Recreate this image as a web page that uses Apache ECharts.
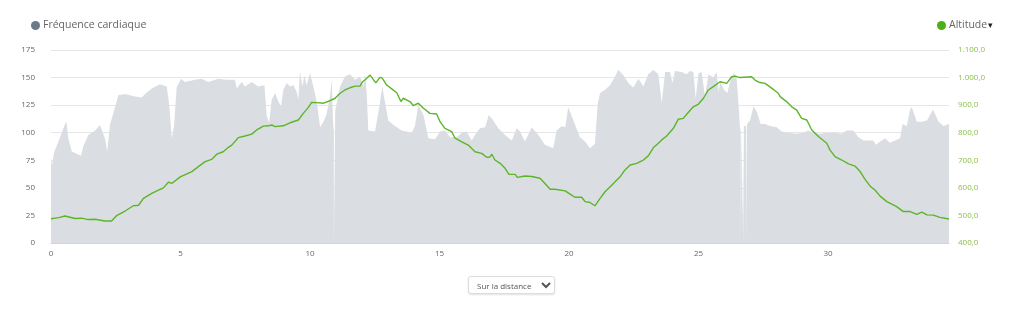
<!DOCTYPE html>
<html>
<head>
<meta charset="utf-8">
<script src="https://cdn.jsdelivr.net/npm/echarts@6/dist/echarts.min.js"></script>
<style>
  html, body { margin: 0; padding: 0; background: #fff; }
  #wrap { position: relative; width: 1024px; height: 309px; }
  #chart { position: absolute; left: 0; top: 0; width: 1024px; height: 309px; }
  #mode {
    position: absolute; left: 468px; top: 276px; width: 87px; height: 18px;
    font-family: 'Open Sans', sans-serif; font-size: 8px; color: #555;
    border: 1px solid #ddd; border-radius: 3px; background: #fff;
    box-shadow: 0 1px 2px rgba(0,0,0,0.12); padding: 0 0 0 4px;
  }
</style>
</head>
<body>
<div id="wrap">
  <div id="chart"></div>
  <select id="mode"><option>Sur la distance</option></select>
</div>
<script>
// ---- data (km, bpm) ----
const hrKm = [0,0.04,0.1,0.15,0.35,0.54,0.6,0.66,0.8,0.99,1.16,1.25,1.44,1.7,1.89,2.08,2.17,2.28,2.4,2.6,2.86,3.2,3.5,3.63,3.89,4.2,4.47,4.57,4.66,4.75,4.85,5.02,5.17,5.56,5.82,6.07,6.46,6.78,7.1,7.17,7.36,7.49,7.75,8.0,8.24,8.33,8.42,8.52,8.65,8.78,8.88,8.97,9.1,9.23,9.36,9.49,9.55,9.61,9.71,9.78,9.87,10.0,10.13,10.26,10.39,10.52,10.64,10.77,10.84,10.9,10.92,10.922,10.972,10.974,11.03,11.16,11.35,11.54,11.74,11.93,12.06,12.12,12.19,12.25,12.51,12.7,12.79,12.9,13.02,13.28,13.54,13.73,13.93,14.05,14.18,14.38,14.57,14.83,15.02,15.21,15.41,15.66,15.86,16.05,16.24,16.37,16.56,16.76,16.9,17.05,17.27,17.53,17.79,17.98,18.11,18.3,18.56,18.82,19.07,19.27,19.39,19.52,19.72,19.85,19.97,20.17,20.42,20.62,20.81,21.0,21.11,21.2,21.39,21.58,21.78,21.9,22.1,22.29,22.48,22.68,22.87,23.06,23.26,23.45,23.58,23.71,23.9,23.99,24.09,24.35,24.54,24.67,24.8,24.89,25.0,25.12,25.25,25.38,25.57,25.7,25.78,25.83,25.98,26.11,26.24,26.37,26.47,26.54,26.6,26.63,26.632,26.66,26.662,26.72,26.722,26.75,26.752,26.84,26.842,26.87,26.872,26.99,27.12,27.25,27.4,27.57,27.76,28.02,28.21,28.47,28.79,29.05,29.24,29.44,29.69,29.95,30.27,30.53,30.72,30.98,31.17,31.37,31.56,31.75,31.85,32.01,32.2,32.39,32.59,32.78,32.88,33.04,33.17,33.23,33.43,33.62,33.82,34.05,34.27,34.46,34.67];
const hrVal = [78,70,80,84,96,108,110,96,83,81,79,88,98,102,107,95,83,108,117,134,135,133,132,135,140,144,142,124,95,106,141,149,146,148,149,146,149,148,148,140,146,142,146,142,143,115,109,130,136,128,124,139,145,142,143,137,130,155,142,152,143,154,142,128,105,110,117,133,148,101,112,0,0,120,121,142,151,153,148,151,142,153,136,102,101,127,142,127,111,106,102,101,100,106,125,116,95,94,101,102,96,96,100,101,93,98,104,105,116,112,104,98,93,104,101,92,105,98,89,87,86,102,106,105,123,111,96,92,86,90,127,136,139,143,151,157,152,145,141,149,142,153,157,153,127,155,155,145,156,155,153,156,155,131,154,155,133,153,150,155,137,147,139,136,148,154,150,127,105,101,0,0,104,104,0,0,106,106,0,0,108,111,124,119,108,108,106,105,101,100,99,100,102,100,99,100,100,99,102,102,96,93,93,93,89,92,95,91,93,95,108,106,121,123,110,110,111,121,110,106,108];

// ---- data (km, m) ----
const altKm = [0,0.3,0.54,0.93,1.18,1.44,1.7,2.08,2.34,2.53,2.86,3.18,3.38,3.57,3.89,4.15,4.34,4.54,4.66,4.99,5.44,5.69,5.95,6.2,6.4,6.65,6.85,6.98,7.23,7.49,7.75,7.94,8.2,8.4,8.52,8.65,8.97,9.23,9.55,9.74,9.93,10.06,10.26,10.52,10.77,10.97,11.16,11.35,11.54,11.74,11.93,12.03,12.12,12.32,12.38,12.54,12.7,12.79,12.96,13.13,13.35,13.51,13.6,13.86,13.99,14.18,14.38,14.63,14.89,15.02,15.21,15.47,15.6,15.86,16.11,16.37,16.63,16.82,16.95,17.02,17.14,17.34,17.53,17.68,17.92,18.0,18.3,18.56,18.88,19.07,19.27,19.46,19.85,20.04,20.23,20.49,20.62,20.81,21.0,21.2,21.39,21.52,21.78,21.97,22.16,22.36,22.61,22.87,23.06,23.26,23.45,23.58,23.77,24.03,24.22,24.41,24.61,24.8,25.0,25.19,25.38,25.57,25.83,26.09,26.28,26.41,26.6,27.05,27.18,27.37,27.57,27.89,28.08,28.15,28.41,28.6,28.79,28.98,29.18,29.37,29.63,29.95,30.08,30.27,30.53,30.79,31.04,31.24,31.43,31.62,31.81,32.01,32.27,32.46,32.65,32.91,33.17,33.43,33.62,33.82,34.07,34.32,34.67];
const altVal = [488,492,498,489,490,485,486,480,480,499,516,535,537,562,580,592,600,621,616,640,659,677,695,703,722,731,747,755,782,788,795,810,824,825,828,822,825,836,846,870,891,910,909,907,916,925,943,955,963,969,969,985,991,1009,1009,981,1001,998,973,961,945,913,925,913,898,907,889,870,868,840,816,804,780,767,755,731,725,711,712,722,701,689,671,649,649,638,643,641,635,616,595,595,589,577,566,566,550,547,535,562,586,598,622,640,665,683,689,701,716,746,762,774,788,816,849,852,874,894,904,925,955,967,985,979,1003,1005,1000,1003,991,982,979,957,943,931,912,894,882,852,846,810,786,762,737,713,701,687,679,659,631,607,592,570,550,541,532,514,514,504,512,502,501,493,487];

const xTicks = { min: 0, max: 34.67, step: 5 };
const hrTicks = { min: 0, max: 175, step: 25 };
const altTicks = { min: 400, max: 1100, step: 100 };

function fmtAlt(v) {
  const s = String(Math.round(v));
  const withSep = s.replace(/\B(?=(\d{3})+(?!\d))/g, '.');
  return withSep + ',0';
}

const chart = echarts.init(document.getElementById('chart'), null, { renderer: 'canvas' });
const font = "'Open Sans', sans-serif";
chart.setOption({
  animation: false,
  textStyle: { fontFamily: font },
  legend: [
    {
      left: 31, top: 20, padding: 0, icon: 'circle', itemWidth: 9, itemHeight: 9,
      textStyle: { fontFamily: font, fontSize: 10.5, color: '#666', padding: [0, 0, 0, -2] },
      data: [{ name: 'Fréquence cardiaque', itemStyle: { color: '#6b7a89' } }]
    },
    {
      left: 937, top: 20, padding: 0, icon: 'circle', itemWidth: 9, itemHeight: 9,
      formatter: '{t|Altitude}{a|▾}',
      textStyle: { fontFamily: font, fontSize: 10.5, color: '#666',
        rich: { t: { fontFamily: font, fontSize: 10.5, color: '#666', padding: [0, 0, 0, -2] },
                a: { fontSize: 9, color: '#222', padding: [0, 0, 0, 1] } } },
      data: [{ name: 'Altitude', itemStyle: { color: '#4caf1a' } }]
    }
  ],
  grid: { left: 51, right: 75, top: 50, bottom: 66 },
  xAxis: {
    type: 'value', min: xTicks.min, max: xTicks.max, interval: xTicks.step,
    axisLine: { show: true, lineStyle: { color: '#ccd6eb', width: 1 } },
    axisTick: { show: false },
    splitLine: { show: false },
    axisLabel: { color: '#666', fontSize: 8, margin: 7, showMaxLabel: false, fontFamily: font }
  },
  yAxis: [
    {
      type: 'value', min: hrTicks.min, max: hrTicks.max, interval: hrTicks.step,
      axisLine: { show: false }, axisTick: { show: false },
      splitLine: { lineStyle: { color: '#e6e6e6', width: 1 } },
      axisLabel: { color: '#666', fontSize: 8, margin: 16, fontFamily: font }
    },
    {
      type: 'value', min: altTicks.min, max: altTicks.max, interval: altTicks.step,
      position: 'right',
      axisLine: { show: false }, axisTick: { show: false },
      splitLine: { show: false },
      axisLabel: { color: '#8cc04a', fontSize: 8, margin: 9, fontFamily: font, formatter: fmtAlt }
    }
  ],
  series: [
    {
      name: 'Fréquence cardiaque', type: 'line', yAxisIndex: 0,
      showSymbol: false, symbol: 'none',
      lineStyle: { width: 0, color: '#dadee2' },
      itemStyle: { color: '#6b7a89' },
      areaStyle: { color: '#dadee2', opacity: 1 },
      data: hrKm.map((k, i) => [k, hrVal[i]]),
      z: 1
    },
    {
      name: 'Altitude', type: 'line', yAxisIndex: 1,
      showSymbol: false, symbol: 'none',
      lineStyle: { width: 1.4, color: '#5cb528' },
      itemStyle: { color: '#4caf1a' },
      data: altKm.map((k, i) => [k, altVal[i]]),
      z: 3
    }
  ]
});
</script>
</body>
</html>
